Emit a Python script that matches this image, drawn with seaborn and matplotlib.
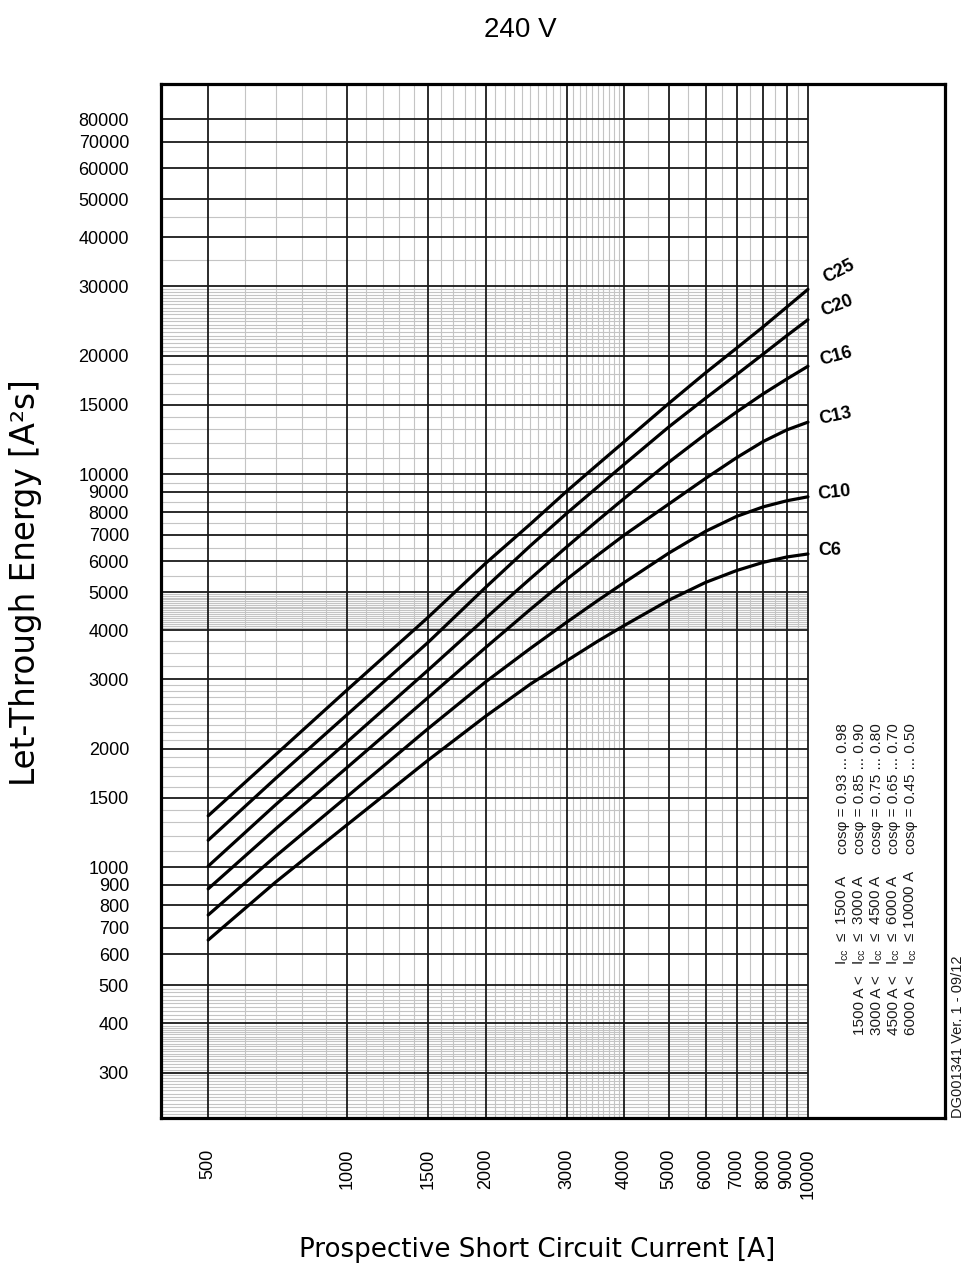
import numpy as np
import pandas as pd
import matplotlib
matplotlib.use("Agg")
import matplotlib.pyplot as plt
import seaborn as sns

# prospective short circuit current [A] at which the curves were read
current = [500, 700, 1000, 1500, 2000, 2500, 3000, 3500, 4000, 5000, 6000,
           7000, 8000, 9000, 10000]

# let-through energy [A²s] per breaker
c25 = [1350, 1930, 2820, 4320, 5930, 7460, 9050, 10580, 12100, 15150, 18100, 20900, 23700, 26600, 29500]
c20 = [1170, 1680, 2440, 3730, 5150, 6570, 7950, 9275, 10600, 13200, 15600, 17900, 20200, 22500, 24700]
c16 = [1005, 1440, 2080, 3170, 4300, 5420, 6530, 7620, 8680, 10730, 12640, 14380, 16000, 17450, 18800]
c13 = [880, 1250, 1790, 2700, 3620, 4525, 5400, 6220, 7000, 8400, 9750, 11000, 12100, 12950, 13550]
c10 = [755, 1065, 1510, 2250, 2960, 3600, 4200, 4765, 5300, 6300, 7150, 7800, 8250, 8550, 8750]
c6 = [652, 915, 1280, 1870, 2420, 2920, 3350, 3755, 4120, 4780, 5300, 5680, 5960, 6150, 6260]

breakers = ["C25", "C20", "C16", "C13", "C10", "C6"]
energy = [c25, c20, c16, c13, c10, c6]

y_ticks = [300, 400, 500, 600, 700, 800, 900, 1000, 1500, 2000, 3000, 4000,
           5000, 6000, 7000, 8000, 9000, 10000, 15000, 20000, 30000, 40000,
           50000, 60000, 70000, 80000]
x_ticks = [500, 1000, 1500, 2000, 3000, 4000, 5000, 6000, 7000, 8000, 9000, 10000]

legend_rows = [
    ("", r"I$_\mathregular{cc}$  ≤  1500 A", "cosφ = 0.93 ... 0.98"),
    ("1500 A <", r"I$_\mathregular{cc}$  ≤  3000 A", "cosφ = 0.85 ... 0.90"),
    ("3000 A <", r"I$_\mathregular{cc}$  ≤  4500 A", "cosφ = 0.75 ... 0.80"),
    ("4500 A <", r"I$_\mathregular{cc}$  ≤  6000 A", "cosφ = 0.65 ... 0.70"),
    ("6000 A <", r"I$_\mathregular{cc}$  ≤ 10000 A", "cosφ = 0.45 ... 0.50"),
]

rows = []
for name, vals in zip(breakers, energy):
    for x, y in zip(current, vals):
        rows.append({"current": x, "energy": y, "breaker": name})
df = pd.DataFrame(rows)

sns.set_style("white")
plt.rcParams["font.family"] = ["Liberation Sans", "DejaVu Sans"]
plt.rcParams["text.color"] = "black"

W, H = 977, 1280
fig = plt.figure(figsize=(W / 100, H / 100), dpi=100)
ax = fig.add_axes([161 / W, 1 - 1118 / H, 784 / W, 1034 / H])
ax.set_xscale("log")
ax.set_yscale("log")
xlim = (395, 19830)
ylim = (229.8, 98260)
ax.set_xlim(xlim)
ax.set_ylim(ylim)

# graph paper grid, stops at 10000 A
x_end = 10000
y_minor = list(range(230, 400, 5)) + list(range(410, 500, 10)) \
    + list(range(1100, 1500, 100)) + list(range(1600, 2000, 100)) \
    + list(range(2100, 3000, 100)) + [3250, 3500, 3750] \
    + list(range(4050, 5000, 50)) + [5500, 6500, 7500, 8500, 9500] \
    + list(range(11000, 15000, 1000)) + list(range(16000, 20000, 1000)) \
    + list(range(20500, 30000, 500)) + [35000, 45000]
y_minor = [v for v in y_minor if v not in y_ticks]
x_minor = list(range(600, 1000, 100)) + list(range(1100, 1500, 100)) \
    + list(range(1600, 2000, 100)) + list(range(2100, 3000, 100)) \
    + list(range(3100, 4000, 100)) + list(range(4500, 10000, 1000))

ax.hlines(y_minor, xlim[0], x_end, color="#c4c4c4", lw=0.8, zorder=1)
ax.vlines(x_minor, ylim[0], ylim[1], color="#c4c4c4", lw=0.8, zorder=1)
ax.hlines(y_ticks, xlim[0], x_end, color="#1a1a1a", lw=1.3, zorder=2)
ax.vlines(x_ticks, ylim[0], ylim[1], color="#1a1a1a", lw=1.3, zorder=2)

sns.lineplot(data=df, x="current", y="energy", units="breaker", estimator=None,
             color="black", lw=2.3, ax=ax, zorder=3, legend=False)

ax.xaxis.set_minor_locator(plt.NullLocator())
ax.yaxis.set_minor_locator(plt.NullLocator())
ax.set_xticks(x_ticks)
ax.set_xticklabels([str(v) for v in x_ticks], rotation=90)
ax.set_yticks(y_ticks)
ax.set_yticklabels([str(v) for v in y_ticks])
ax.tick_params(axis="both", which="major", direction="out", length=10,
               width=1.3, color="black", labelsize=13, labelcolor="black")
ax.tick_params(axis="y", pad=13)
ax.tick_params(axis="x", pad=12)
ax.set_xlim(xlim)
ax.set_ylim(ylim)
ax.set_xlabel("")
ax.set_ylabel("")
for s in ax.spines.values():
    s.set_visible(True)
    s.set_linewidth(2.3)
    s.set_color("black")

# curve labels at the curve ends
label_style = {
    "C25": (27, 12, 7.5),
    "C20": (21, 10, 5.8),
    "C16": (15, 8.4, 4.0),
    "C13": (12, 8.2, 1.8),
    "C10": (6, 7.2, 1.5),
    "C6": (1, 7.2, 2.2),
}
for name, vals in zip(breakers, energy):
    rot, dx, dy = label_style[name]
    ax.annotate(name, (current[-1], vals[-1]), xytext=(dx, dy),
                textcoords="offset points", rotation=rot,
                rotation_mode="anchor", ha="left", va="center",
                fontsize=13, fontweight="bold", color="black",
                annotation_clip=False)


# power factor table, rotated
def fx(px):
    return px / W


def fy(py):
    return 1 - py / H


for i, (c1, c2, c3) in enumerate(legend_rows):
    x = 843 + 17 * i
    kw = dict(rotation=90, rotation_mode="anchor", va="center",
              fontsize=11, color="#1a1a1a")
    if c1:
        fig.text(fx(x), fy(975), c1, ha="right", **kw)
    fig.text(fx(x), fy(965), c2, ha="left", **kw)
    fig.text(fx(x), fy(854), c3, ha="left", **kw)

fig.text(fx(958), fy(1118), "DG001341 Ver. 1 - 09/12", rotation=90,
         rotation_mode="anchor", ha="left", va="center", fontsize=10.5,
         color="#1a1a1a")

fig.text(fx(520), fy(30), "240 V", ha="center", va="center", fontsize=20,
         family=["Liberation Sans Narrow", "Liberation Sans", "DejaVu Sans"])
fig.text(fx(537), fy(1250), "Prospective Short Circuit Current [A]",
         ha="center", va="center", fontsize=18.8, family=["DejaVu Sans"])
fig.text(fx(26), fy(583), "Let-Through Energy [A²s]", rotation=90,
         ha="center", va="center", fontsize=23.5, family=["DejaVu Sans"])

fig.savefig("out.png", dpi=100)
